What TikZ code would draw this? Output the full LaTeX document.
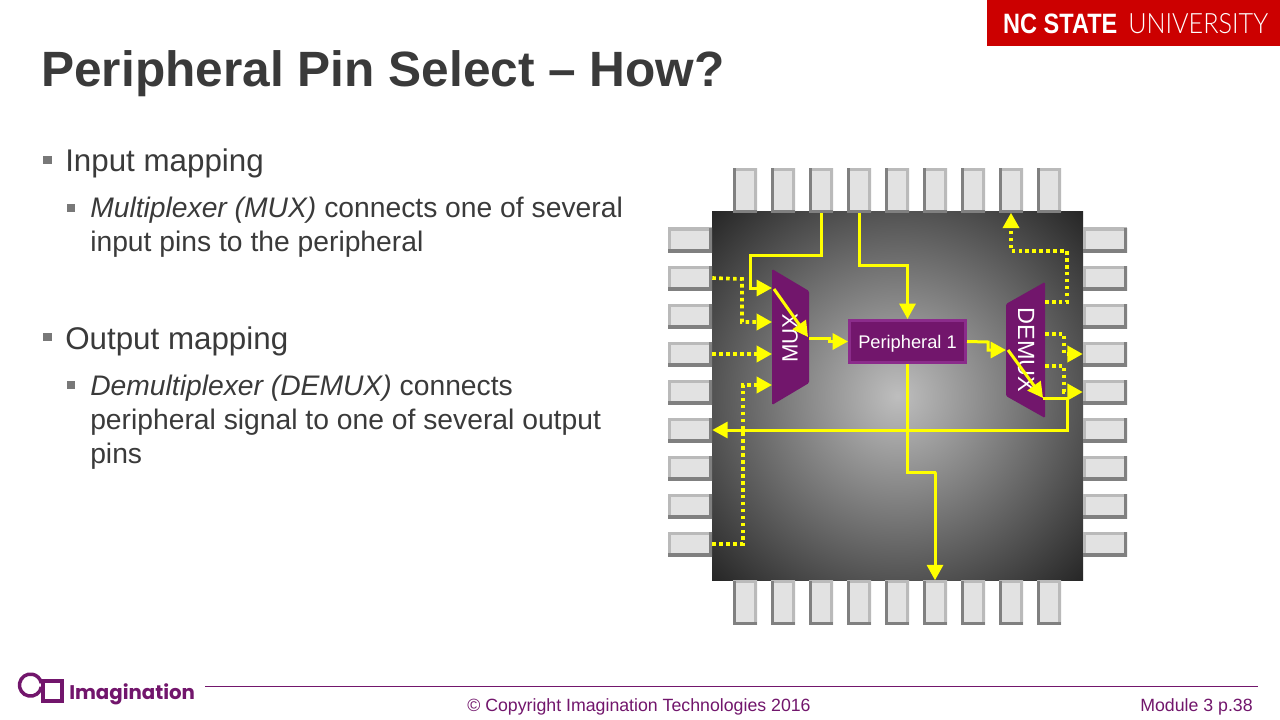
\documentclass[tikz,border=0pt]{standalone}
\usepackage{fontspec}
\setmainfont{Liberation Sans}
\newfontfamily\logofont{Poppins}
\newfontfamily\lightfont[UprightFont=* Light]{Lato}
\usepackage{xcolor}
\usetikzlibrary{calc,arrows.meta,positioning}
\definecolor{slideGray}{RGB}{58,58,58}
\definecolor{bulletGray}{RGB}{120,120,120}
\definecolor{imgPurple}{RGB}{114,22,108}
\definecolor{imgPurpleLight}{RGB}{139,44,139}
\definecolor{ncRed}{RGB}{204,0,0}
\definecolor{wireYellow}{RGB}{255,255,0}
\definecolor{pinFace}{RGB}{226,226,226}
\definecolor{pinLight}{RGB}{186,186,186}
\definecolor{pinDark}{RGB}{128,128,128}
\definecolor{chipCenter}{RGB}{190,190,190}
\definecolor{chipEdge}{RGB}{38,38,38}
\pgfdeclareradialshading{chipglow}{\pgfpoint{0bp}{0bp}}{color(0bp)=(chipCenter);color(35.4bp)=(chipEdge);color(50bp)=(chipEdge)}
\tikzset{
  pinh/.style={rectangle,fill=pinFace,inner sep=0pt,minimum width=33pt,minimum height=18pt,
    path picture={
      \draw[pinLight,line width=4.2pt] (path picture bounding box.south west)--(path picture bounding box.north west)--(path picture bounding box.north east);
      \draw[pinDark,line width=4.2pt] (path picture bounding box.north east)--(path picture bounding box.south east)--(path picture bounding box.south west);}},
  pinv/.style={rectangle,fill=pinFace,inner sep=0pt,minimum width=18pt,minimum height=33pt,
    path picture={
      \draw[pinLight,line width=4.2pt] (path picture bounding box.north west)--(path picture bounding box.north east)--(path picture bounding box.south east);
      \draw[pinDark,line width=4.2pt] (path picture bounding box.south east)--(path picture bounding box.south west)--(path picture bounding box.north west);}},
  wire/.style={wireYellow,line width=2.25pt,-{Triangle[length=11.5pt,width=12pt]}},
  dotwire/.style={wire,line width=2.7pt,dash pattern=on 2.7pt off 2.5pt},
  headtext/.style={anchor=base west,inner sep=0pt,text=slideGray,font=\fontsize{23.5}{28}\selectfont},
  bodytext/.style={anchor=base west,inner sep=0pt,text=slideGray,font=\fontsize{21.2}{24}\selectfont},
  blockmark/.style={fill=bulletGray,inner sep=0pt,minimum size=6.4pt},
  footertext/.style={inner sep=0pt,text=imgPurple,anchor=base,font=\fontsize{13.3}{15}\selectfont},
}
\begin{document}
\begin{tikzpicture}[x=0.75pt,y=-0.75pt]
\useasboundingbox (0,0) rectangle (1280,720);
\fill[white] (0,0) rectangle (1280,720);

\fill[ncRed] (987,0) rectangle (1280,46);
\node[inner sep=0pt,anchor=base west,text=white,xscale=0.84,font=\fontsize{21}{24}\selectfont\bfseries] (ncstate) at (1003,33.5) {NC STATE};
\node[inner sep=0pt,anchor=base west,text=white,xscale=0.9,font=\fontsize{21}{24}\selectfont\lightfont] (ncuniv) at (1128,33.5) {UNIVERSITY};

\node[anchor=base west,inner sep=0pt,text=slideGray,font=\fontsize{37.2}{42}\selectfont\bfseries] (title) at (41,87) {Peripheral Pin Select -- How?};

\node[blockmark] (markA) at (47.5,160) {};
\node[headtext] (inmap) at (65,172) {Input mapping};
\node[blockmark,minimum size=6pt] (markB) at (71,208) {};
\node[bodytext] (inA) at (90,218) {\textit{Multiplexer (MUX)} connects one of several};
\node[bodytext] (inB) at (90,252) {input pins to the peripheral};
\node[blockmark] (markC) at (47.5,337) {};
\node[headtext] (outmap) at (65,349) {Output mapping};
\node[blockmark,minimum size=6pt] (markD) at (71,385) {};
\node[bodytext] (outA) at (90,395) {\textit{Demultiplexer (DEMUX)} connects};
\node[bodytext] (outB) at (90,429) {peripheral signal to one of several output};
\node[bodytext] (outC) at (90,463) {pins};

\shade[shading=chipglow] (712,212) rectangle (1083,580);
\foreach \n in {1,...,9}{
  \node[pinv] (pinT\n) at ({707+38*\n},190.5) {};
  \node[pinv] (pinB\n) at ({707+38*\n},602.5) {};
  \node[pinh] (pinL\n) at (690,{202+38*\n}) {};
  \node[pinh] (pinR\n) at (1105,{202+38*\n}) {};
}

\fill[imgPurple,rounded corners=1pt] (772,269)--(809,291)--(809,383)--(772,405)--cycle;
\fill[imgPurple,rounded corners=1pt] (1006,304)--(1045,282)--(1045,418)--(1006,396)--cycle;
\node[text=white,rotate=90,inner sep=0pt,font=\fontsize{16.6}{20}\selectfont] (muxlabel) at (790,338) {MUX};
\node[text=white,rotate=-90,inner sep=0pt,font=\fontsize{17.6}{20}\selectfont] (demuxlabel) at (1026,350) {DEMUX};
\node[draw=imgPurpleLight,fill=imgPurple,line width=2.25pt,text=white,inner sep=0pt,minimum width=87pt,minimum height=31.5pt,text depth=0pt,font=\fontsize{13.7}{16}\selectfont] (periph) at (907.5,341.5) {Peripheral 1};

\coordinate (muxA) at (772,288);
\coordinate (muxB) at (772,322);
\coordinate (muxC) at (772,354);
\coordinate (muxD) at (772,385);
\coordinate (muxOut) at (809,338);
\coordinate (demuxIn) at (1006,350);
\coordinate (demuxA) at (1045,302);
\coordinate (demuxB) at (1045,334);
\coordinate (demuxC) at (1045,366);
\coordinate (demuxD) at (1043,398);

\draw[dotwire] (pinL2.east) -- (742,279) |- (muxB);
\draw[dotwire] (pinL4.east) -- (muxC);
\draw[dotwire] (pinL9.east) -- (743,544) |- (muxD);
\draw[dotwire] (demuxA) -- (1067,302) |- (1011,251) -- (pinT8.south);
\draw[dotwire] (demuxB) -- (1064,334) |- (pinR4.west);
\draw[dotwire] (demuxC) -- (1064,366) |- (pinR5.west);

\draw[wire] (pinT3.south) |- (750,255) |- (muxA);
\draw[wire] (pinT4.south) |- (907.5,265) -- (periph.north);
\draw[wire] (periph.south) |- (936,472) -| (pinB6.north);
\draw[wire] (muxOut) -- (829,338) |- (periph.west);
\draw[wire] (periph.east) -- (988,342) |- (demuxIn);
\draw[wire] (demuxD) -- (1067,398) |- (pinL6.east);
\draw[wire] (774,289) -- (808,337);
\draw[wire] (1008,350) -- (demuxD);

\draw[imgPurple,line width=0.75pt] (205,686.5) -- (1258,686.5);
\node[footertext] (copyright) at (639,711) {\textcopyright{} Copyright Imagination Technologies 2016};
\node[footertext,anchor=base east] (module) at (1253,711) {Module 3 p.38};

\draw[imgPurple,line width=2.6pt] (41.3,687) arc[start angle=10,end angle=350,radius=11];
\draw[imgPurple,line width=2.6pt] (43,681) rectangle (62,701);
\node[anchor=base west,inner sep=0pt,text=imgPurple,font=\logofont\fontsize{14.8}{18}\selectfont\bfseries] (logotext) at (69,699) {Imagination};
\end{tikzpicture}
\end{document}
